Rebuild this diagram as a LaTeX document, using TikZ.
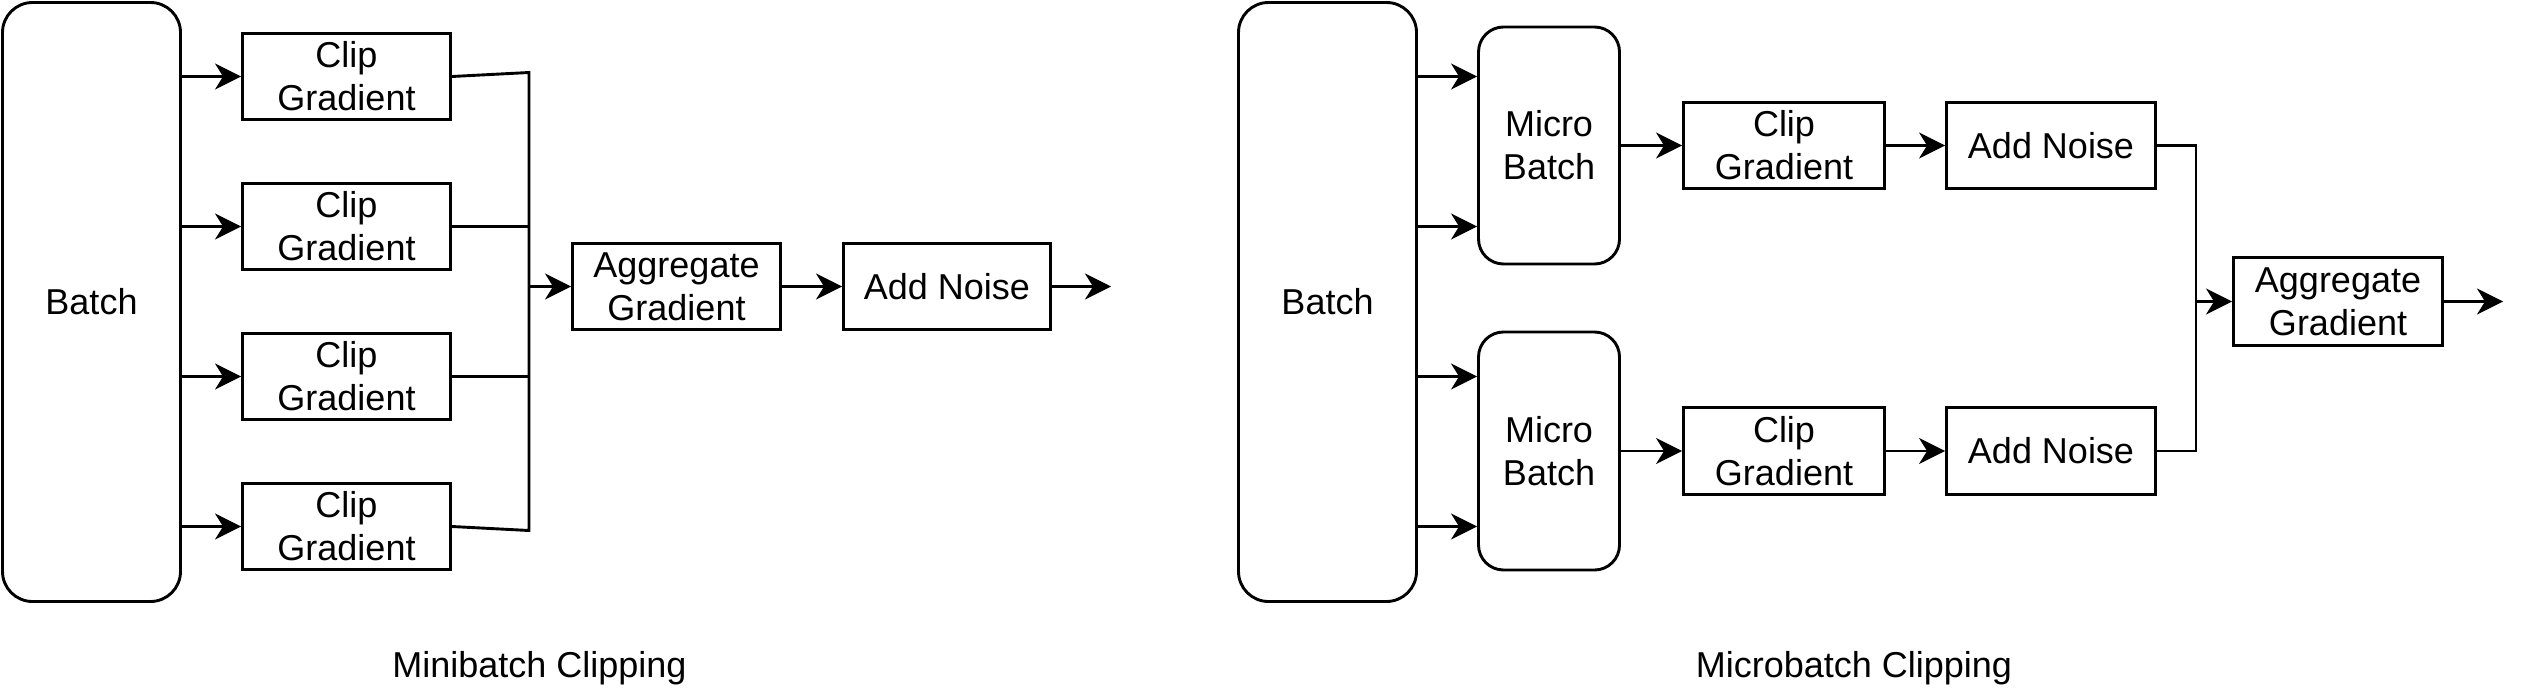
\documentclass[tikz,border=0pt]{standalone}
\usepackage{fontspec}
\setmainfont{Liberation Sans}
\usetikzlibrary{arrows.meta}
\begin{document}
\begin{tikzpicture}[x=1pt,y=-1pt,
  every node/.style={font=\fontsize{36}{43}\selectfont},
  box/.style={draw=black, line width=2.9pt, inner sep=0pt, align=center, fill=white},
  rbox/.style={box, rounded corners=30pt},
  mbox/.style={box, rounded corners=25pt},
  conn/.style={line width=2.9pt},
  arr/.style={conn, -{Stealth[length=26pt,width=26pt,inset=8pt]}}
]
\useasboundingbox (0,0) rectangle (2529,699);

% ---------- Minibatch clipping ----------
\node[rbox, minimum width=178pt, minimum height=599pt] (batchL) at (91.5,302) {Batch};
\node[box, minimum width=208pt, minimum height=86.5pt] (c1) at (346.5,76.5) {Clip\\Gradient};
\node[box, minimum width=208pt, minimum height=86.5pt] (c2) at (346.5,226.5) {Clip\\Gradient};
\node[box, minimum width=208pt, minimum height=86.5pt] (c3) at (346.5,376.5) {Clip\\Gradient};
\node[box, minimum width=208pt, minimum height=86.5pt] (c4) at (346.5,526.5) {Clip\\Gradient};
\node[box, minimum width=208pt, minimum height=86.5pt] (aggL) at (676.5,286.5) {Aggregate\\Gradient};
\node[box, minimum width=207pt, minimum height=86.5pt] (noiseL) at (947,286.5) {Add Noise};
\coordinate (btL) at (529,72.5);
\coordinate (bbL) at (529,530.5);
\coordinate (outL) at (1111,286.5);
\node (labL) at (539.5,668) {Minibatch Clipping};

\foreach \c in {c1,c2,c3,c4}{
  \draw[arr] (batchL.east |- \c) -- (\c.west);
}
\draw[conn] (c1.east) -- (btL) -- (bbL) -- (c4.east);
\draw[conn] (c2.east) -- (c2.east -| btL);
\draw[conn] (c3.east) -- (c3.east -| btL);
\draw[arr] (btL |- aggL.west) -- (aggL.west);
\draw[arr] (aggL.east) -- (noiseL.west);
\draw[arr] (noiseL.east) -- (outL);

% ---------- Microbatch clipping ----------
\node[rbox, minimum width=178pt, minimum height=599pt] (batchR) at (1327.5,302) {Batch};
\node[mbox, minimum width=141pt, minimum height=237pt] (mb1) at (1549,145.5) {Micro\\Batch};
\node[mbox, minimum width=141pt, minimum height=238pt] (mb2) at (1549,451) {Micro\\Batch};
\node[box, minimum width=201pt, minimum height=86.5pt] (cr1) at (1784,145.5) {Clip\\Gradient};
\node[box, minimum width=201pt, minimum height=86.5pt] (cr2) at (1784,451) {Clip\\Gradient};
\node[box, minimum width=209pt, minimum height=86.5pt] (nr1) at (2051,145.5) {Add Noise};
\node[box, minimum width=209pt, minimum height=86.5pt] (nr2) at (2051,451) {Add Noise};
\node[box, minimum width=209pt, minimum height=87.5pt] (aggR) at (2338,301.5) {Aggregate\\Gradient};
\coordinate (r1) at (0,76.5);
\coordinate (r2) at (0,226.5);
\coordinate (r3) at (0,376.5);
\coordinate (r4) at (0,526.5);
\coordinate (busR) at (2196,0);
\coordinate (outR) at (2503,301.5);
\node (labR) at (1854,668) {Microbatch Clipping};

\draw[arr] (batchR.east |- r1) -- (mb1.west |- r1);
\draw[arr] (batchR.east |- r2) -- (mb1.west |- r2);
\draw[arr] (batchR.east |- r3) -- (mb2.west |- r3);
\draw[arr] (batchR.east |- r4) -- (mb2.west |- r4);
\draw[arr] (mb1.east) -- (cr1.west);
\draw[arr] (mb2.east) -- (cr2.west);
\draw[arr] (cr1.east) -- (nr1.west);
\draw[arr] (cr2.east) -- (nr2.west);
\draw[conn] (nr1.east) -- (nr1.east -| busR) -- (nr2.east -| busR) -- (nr2.east);
\draw[arr] (busR |- aggR.west) -- (aggR.west);
\draw[arr] (aggR.east) -- (outR);
\end{tikzpicture}
\end{document}
